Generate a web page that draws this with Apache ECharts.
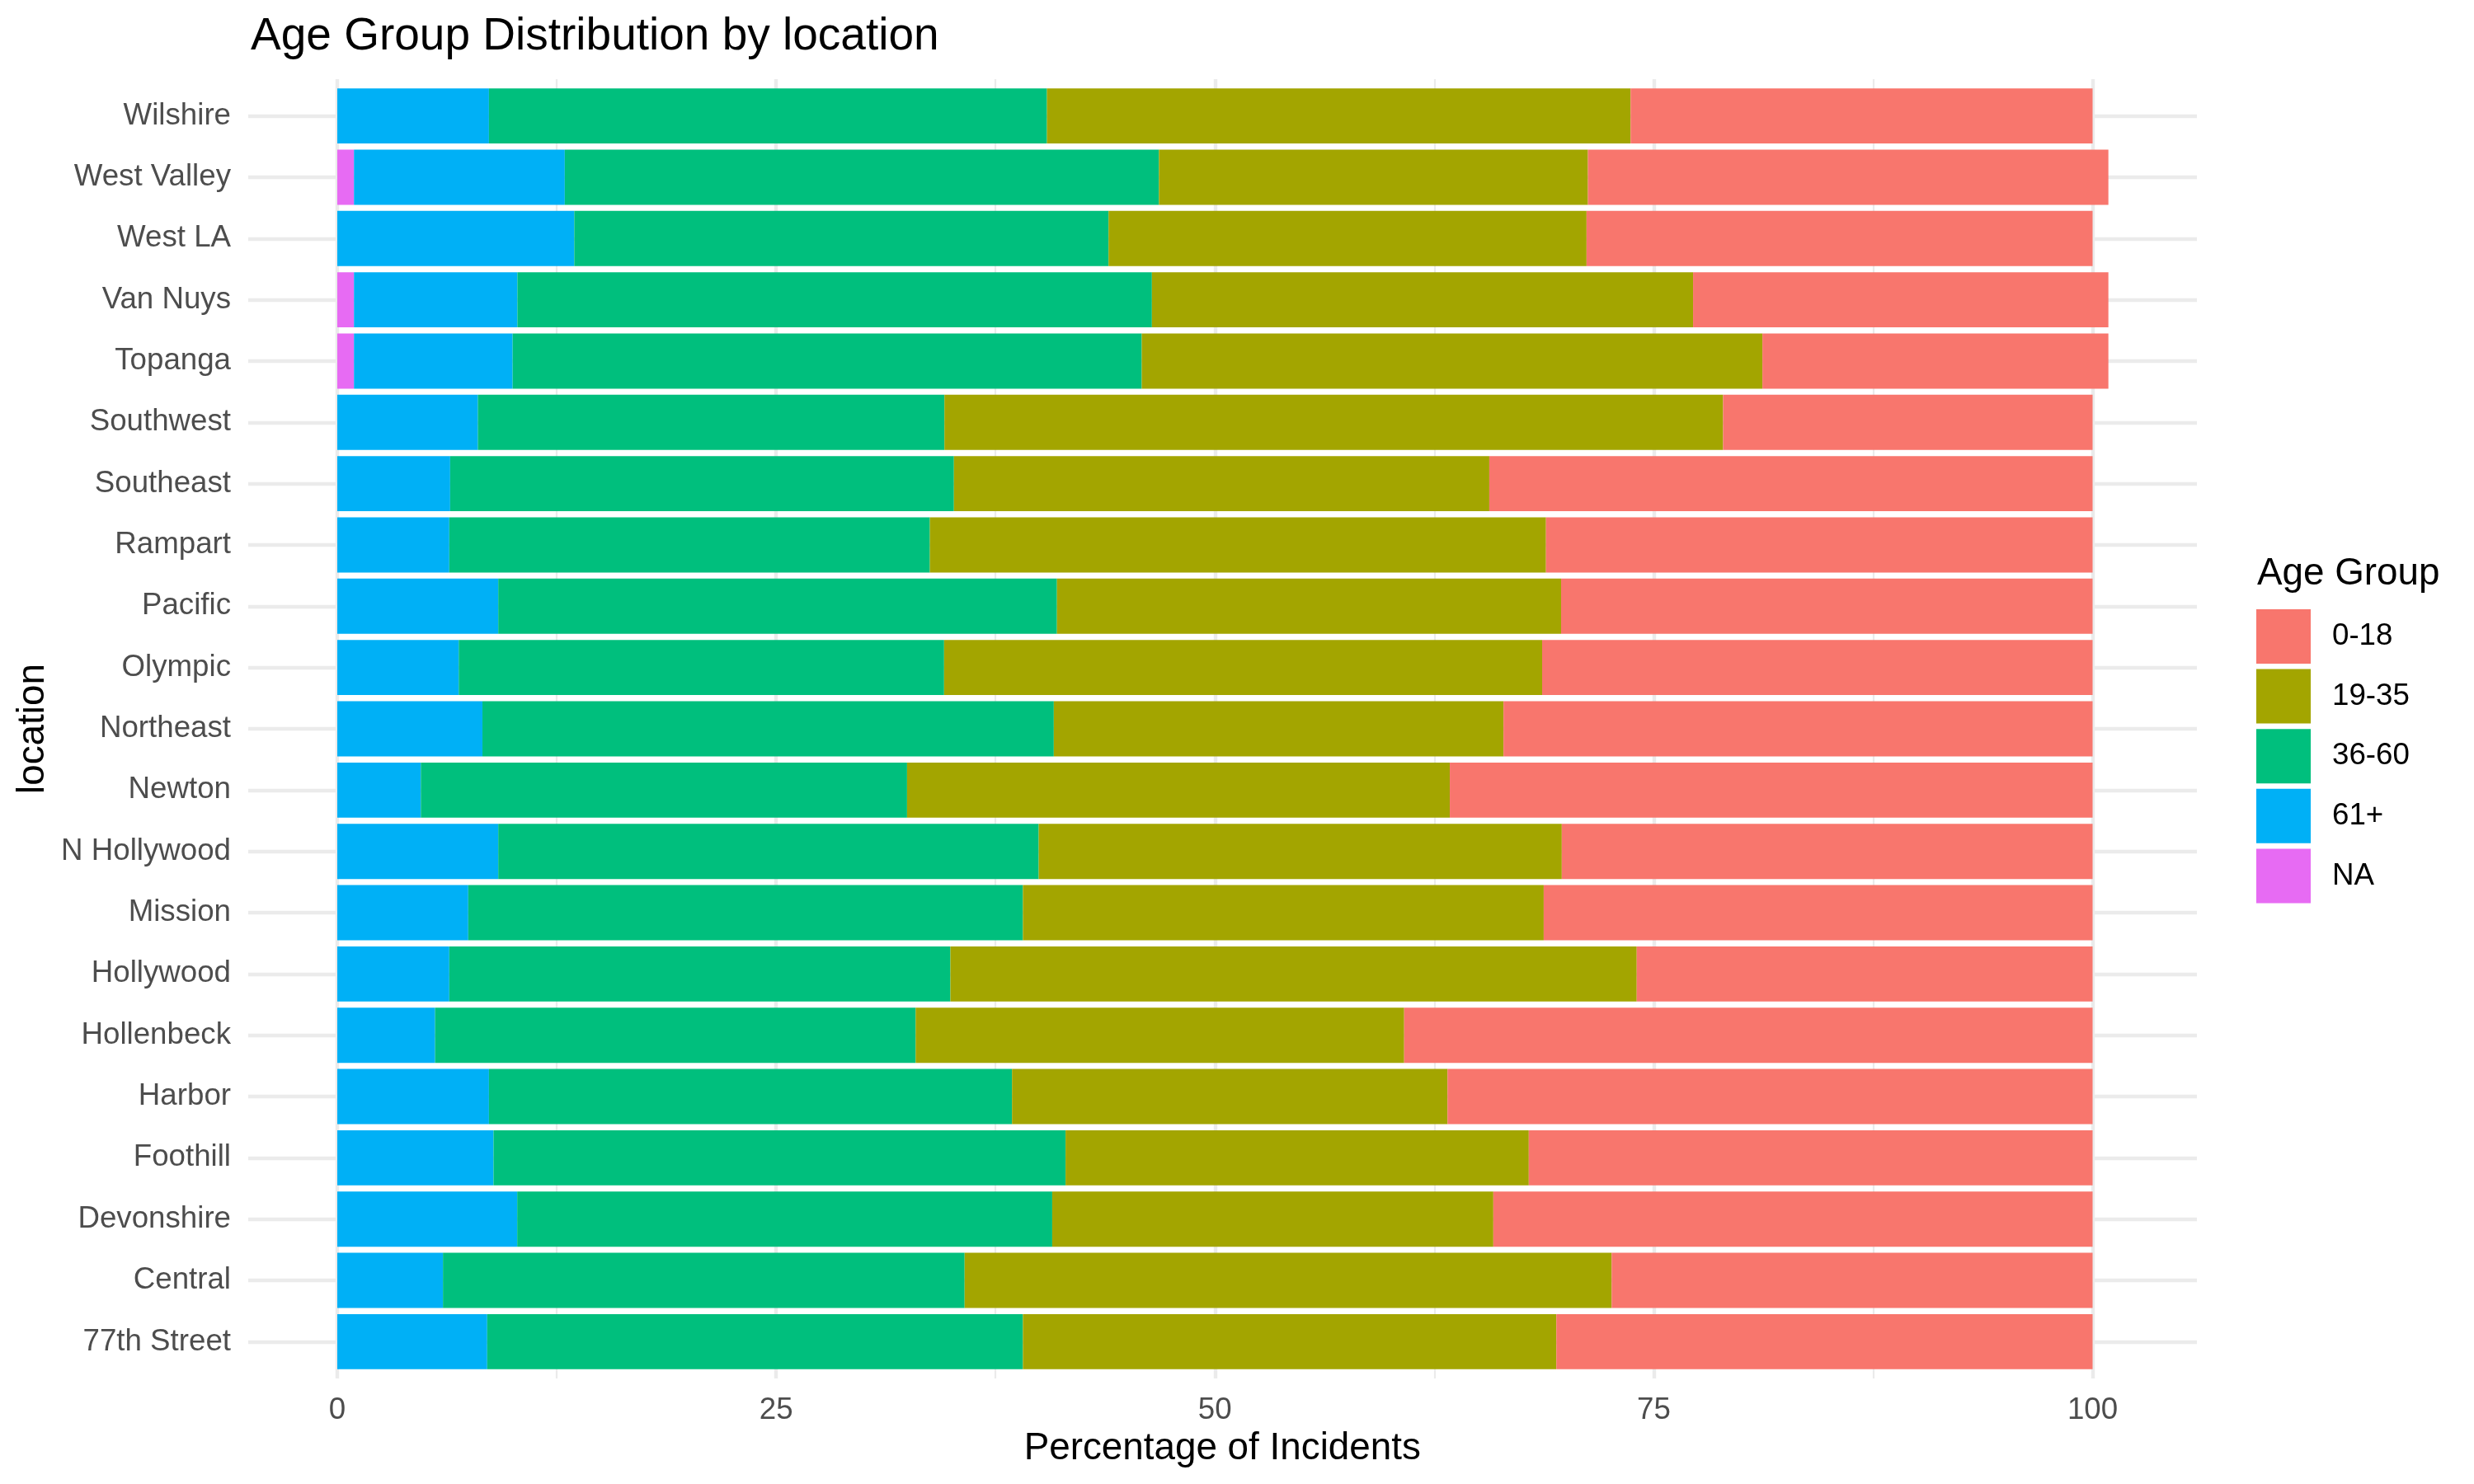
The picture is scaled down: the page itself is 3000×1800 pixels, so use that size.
<!DOCTYPE html>
<html>
<head>
<meta charset="utf-8">
<script src="https://cdn.jsdelivr.net/npm/echarts@6/dist/echarts.min.js"></script>
<style>
html,body{margin:0;padding:0;background:#fff;}
#chart{width:3000px;height:1800px;}
</style>
</head>
<body>
<div id="chart"></div>
<script>
// Categories (bottom to top)
const locations = ['77th Street','Central','Devonshire','Foothill','Harbor','Hollenbeck','Hollywood','Mission','N Hollywood','Newton','Northeast','Olympic','Pacific','Rampart','Southeast','Southwest','Topanga','Van Nuys','West LA','West Valley','Wilshire'];
const ageGroups = ['0-18','19-35','36-60','61+','NA'];
// Percentages per age group, same order as locations
const pctNA    = [0,0,0,0,0,0,0,0,0,0,0,0,0,0,0,0,0.95,0.95,0,0.95,0];
const pct61    = [8.54,6.02,10.25,8.90,8.64,5.57,6.38,7.46,9.17,4.76,8.27,6.92,9.17,6.38,6.43,8.01,9.04,9.31,13.50,12.01,8.64];
const pct36_60 = [30.52,29.72,30.48,32.59,29.80,27.38,28.55,31.60,30.79,27.70,32.55,27.65,31.83,27.38,28.70,26.58,35.84,36.15,30.44,33.85,31.79];
const pct19_35 = [30.39,36.86,25.13,26.39,24.81,27.83,39.10,29.67,29.80,30.92,25.62,34.07,28.72,35.10,30.50,44.36,35.36,30.83,27.23,24.44,33.25];
const pct0_18  = [30.55,27.40,34.14,32.12,36.75,39.22,25.97,31.27,30.24,36.62,33.56,31.36,30.28,31.14,34.37,21.05,19.71,23.66,28.83,29.65,26.32];
const xTicks = [0, 25, 50, 75, 100];

const colors = {'0-18':'#F8766D','19-35':'#A3A500','36-60':'#00BF7D','61+':'#00B0F6','NA':'#E76BF3'};
const FONT = 'Liberation Sans, Arial, Helvetica, sans-serif';

// Layout (pixels)
const panelL = 301, panelR = 2664, panelT = 96, panelB = 1672;
const unitY = (panelB - panelT) / 21.2;
const x0 = 409, pxPerUnit = 21.285;
const xMaxBars = 100.9;

const chart = echarts.init(document.getElementById('chart'), null, {renderer:'canvas'});

const stackOrder = [['NA', pctNA], ['61+', pct61], ['36-60', pct36_60], ['19-35', pct19_35], ['0-18', pct0_18]];

const series = stackOrder.map(([name, data]) => ({
  name: name,
  type: 'bar',
  stack: 'total',
  xAxisIndex: 0,
  yAxisIndex: 0,
  data: data,
  barCategoryGap: '10%',
  clip: false,
  itemStyle: {color: colors[name], borderWidth: 0},
  emphasis: {disabled: true},
  animation: false
}));

const option = {
  backgroundColor: '#ffffff',
  animation: false,
  color: ageGroups.map(g => colors[g]),
  title: [
    {text: 'Age Group Distribution by location', left: panelL - 2, top: 12,
     textStyle: {fontFamily: FONT, fontSize: 55, fontWeight: 'normal', color: '#000'}},
    {text: 'Age Group', left: 2732, top: 668,
     textStyle: {fontFamily: FONT, fontSize: 45.8, fontWeight: 'normal', color: '#000'}}
  ],
  legend: {
    data: ageGroups,
    orient: 'vertical',
    left: 2736, top: 739,
    padding: 0,
    itemWidth: 66, itemHeight: 66, itemGap: 6.6,
    icon: 'rect',
    selectedMode: false,
    textStyle: {fontFamily: FONT, fontSize: 36.7, color: '#000', padding: [0,0,0,21]}
  },
  grid: [
    // bars
    {left: x0, top: panelT + 0.1*unitY, width: xMaxBars*pxPerUnit, height: 21*unitY, containLabel: false},
    // horizontal gridlines (category centers) spanning full panel width
    {left: panelL, top: panelT + 0.6*unitY, width: panelR - panelL, height: 20*unitY, containLabel: false},
    // vertical gridlines and x labels, full panel height
    {left: x0, top: panelT, width: 100*pxPerUnit, height: panelB - panelT, containLabel: false}
  ],
  xAxis: [
    {gridIndex: 0, type: 'value', min: 0, max: xMaxBars, show: false, splitLine:{show:false}},
    {gridIndex: 1, type: 'value', min: 0, max: 1, show: false, splitLine:{show:false}},
    {gridIndex: 2, type: 'value', min: xTicks[0], max: xTicks[xTicks.length-1], interval: 25,
     axisLine:{show:false}, axisTick:{show:false},
     axisLabel:{show:true, fontFamily: FONT, fontSize: 36.7, color:'#4D4D4D', margin: 20},
     splitLine:{show:true, lineStyle:{color:'#EBEBEB', width:4.4}},
     minorTick:{show:false, splitNumber:2},
     minorSplitLine:{show:true, lineStyle:{color:'#EBEBEB', width:2.2}},
     name: 'Percentage of Incidents', nameLocation: 'middle', nameGap: 62,
     nameTextStyle:{fontFamily: FONT, fontSize: 45.8, color:'#000', padding:[0,0,0,18]}
    }
  ],
  yAxis: [
    {gridIndex: 0, type: 'category', data: locations,
     axisLine:{show:false}, axisTick:{show:false}, splitLine:{show:false},
     axisLabel:{show:true, fontFamily: FONT, fontSize: 36.7, color:'#4D4D4D', margin: x0 - 280, padding:[4,0,0,0]},
     name: 'location', nameLocation: 'middle', nameRotate: 90, nameGap: x0 - 40,
     nameTextStyle:{fontFamily: FONT, fontSize: 45.8, color:'#000', verticalAlign:'middle'}
    },
    {gridIndex: 1, type: 'category', data: locations, boundaryGap: false,
     axisLine:{show:false}, axisTick:{show:false}, axisLabel:{show:false},
     splitLine:{show:true, interval: 0, lineStyle:{color:'#EBEBEB', width:4.4}}
    },
    {gridIndex: 2, type: 'value', min: 0, max: 1, show: false, splitLine:{show:false}}
  ],
  series: series
};

chart.setOption(option);
</script>
</body>
</html>
